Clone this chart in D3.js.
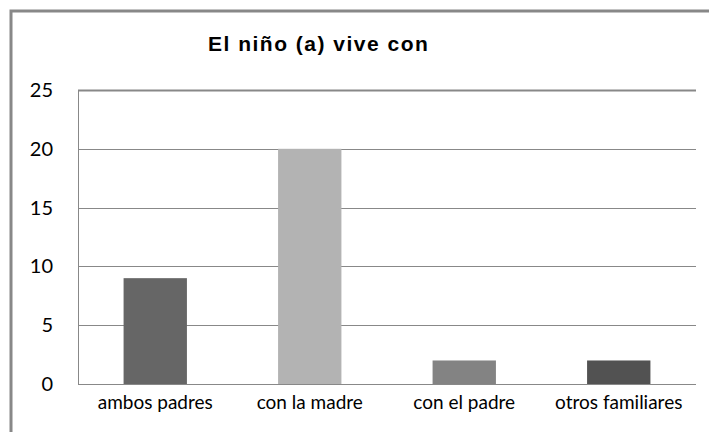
<!DOCTYPE html>
<meta charset="utf-8">
<script src="https://d3js.org/d3.v7.min.js"></script>
<style>
  body { margin: 0; background: #fff; }
</style>
<div id="my_dataviz"></div>
<script>

// data
var categories = ["ambos padres", "con la madre", "con el padre", "otros familiares"];
var values = [9, 20, 2, 2];
var barColors = ["#666666", "#b3b3b3", "#838383", "#525252"];
var yTicks = [0, 5, 10, 15, 20, 25];
var chartTitle = "El niño (a) vive con";

var W = 709, H = 432;
var margin = {top: 90, right: 13, bottom: 48, left: 78},
    width = W - margin.left - margin.right,
    height = H - margin.top - margin.bottom;

var root = d3.select("#my_dataviz")
  .append("svg")
    .attr("width", W)
    .attr("height", H);

// outer chart frame (runs off the right and bottom edges)
root.append("rect")
    .attr("x", 11)
    .attr("y", 11)
    .attr("width", W + 20)
    .attr("height", H + 20)
    .style("fill", "none")
    .style("stroke", "#888")
    .style("stroke-width", 3);

root.append("text")
    .attr("x", 208)
    .attr("y", 51)
    .style("font-family", "Liberation Sans, Arial, sans-serif")
    .style("font-size", "21px")
    .style("font-weight", "bold")
    .style("letter-spacing", "1.5px")
    .text(chartTitle);

var svg = root.append("g")
    .attr("transform", "translate(" + margin.left + "," + margin.top + ")");

var x = d3.scaleBand()
  .domain(categories)
  .range([0, width])
  .paddingInner(0.59)
  .paddingOuter(0.295);

var y = d3.scaleLinear()
  .domain([0, 25])
  .range([height, 0]);

// gridlines
svg.append("g")
  .selectAll("line")
  .data(yTicks)
  .enter()
  .append("line")
    .attr("x1", 0)
    .attr("x2", width)
    .attr("y1", function(d) { return Math.round(y(d)) + 0.5; })
    .attr("y2", function(d) { return Math.round(y(d)) + 0.5; })
    .style("stroke", "#888")
    .style("stroke-width", function(d) { return d === 25 ? 2 : 1; });

// left vertical line of plot area
svg.append("line")
    .attr("x1", 0.5).attr("x2", 0.5)
    .attr("y1", y(25)).attr("y2", y(0))
    .style("stroke", "#888");

// bars
svg.selectAll("rect.bar")
  .data(values)
  .enter()
  .append("rect")
    .attr("class", "bar")
    .attr("x", function(d, i) { return x(categories[i]); })
    .attr("y", function(d) { return y(d); })
    .attr("width", x.bandwidth())
    .attr("height", function(d) { return height - y(d); })
    .style("fill", function(d, i) { return barColors[i]; });

// y tick labels
svg.append("g")
  .selectAll("text")
  .data(yTicks)
  .enter()
  .append("text")
    .attr("x", -25)
    .attr("y", function(d) { return y(d); })
    .attr("dy", "0.35em")
    .attr("text-anchor", "end")
    .style("font-family", "Lato, sans-serif")
    .style("font-size", "20px")
    .style("fill", "#000")
    .text(function(d) { return d; });

// x labels
svg.append("g")
  .selectAll("text")
  .data(categories)
  .enter()
  .append("text")
    .attr("x", function(d) { return x(d) + x.bandwidth() / 2; })
    .attr("y", height + 25)
    .attr("text-anchor", "middle")
    .style("font-family", "Lato, sans-serif")
    .style("font-size", "19px")
    .style("fill", "#000")
    .text(function(d) { return d; });

</script>
